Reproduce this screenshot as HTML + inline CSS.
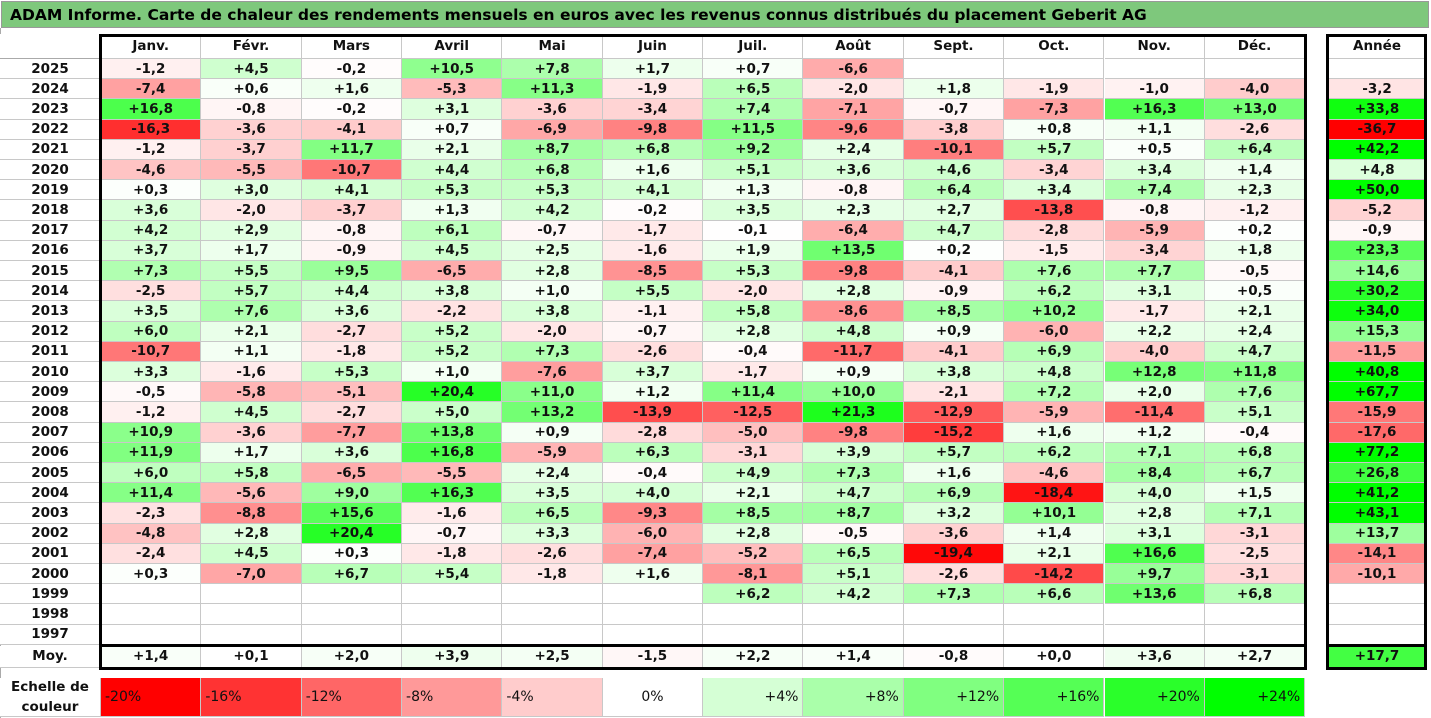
<!DOCTYPE html>
<html><head><meta charset="utf-8">
<style>
body{margin:0;width:1431px;height:718px;background:#fff;font-family:"DejaVu Sans","Liberation Sans",sans-serif;position:relative;overflow:hidden}
.c{position:absolute;box-sizing:border-box;font-weight:bold;font-size:13.5px;color:#111;display:flex;align-items:center;justify-content:center;border-right:1px solid #c8c8c8;border-bottom:1px solid #c8c8c8}
.b{position:absolute;box-sizing:border-box;border:3px solid #000;pointer-events:none}
#title{position:absolute;left:1px;top:1px;width:1428px;height:27px;background:#7ec87c;font-weight:bold;font-size:15.5px;display:flex;align-items:center;padding-left:8px;box-sizing:border-box;border:1px solid #999}
</style></head><body>
<div id="title">ADAM Informe. Carte de chaleur des rendements mensuels en euros avec les revenus connus distribués du placement Geberit AG</div>
<div style="position:absolute;left:0;top:28px;width:1px;height:690px;background:#aaa"></div>
<div id="root"></div>
<script>
const months=["Janv.","Févr.","Mars","Avril","Mai","Juin","Juil.","Août","Sept.","Oct.","Nov.","Déc."];
const years=[2025,2024,2023,2022,2021,2020,2019,2018,2017,2016,2015,2014,2013,2012,2011,2010,2009,2008,2007,2006,2005,2004,2003,2002,2001,2000,1999,1998,1997];
const N=null;
const values=[
[-1.2,4.5,-0.2,10.5,7.8,1.7,0.7,-6.6,N,N,N,N],
[-7.4,0.6,1.6,-5.3,11.3,-1.9,6.5,-2.0,1.8,-1.9,-1.0,-4.0],
[16.8,-0.8,-0.2,3.1,-3.6,-3.4,7.4,-7.1,-0.7,-7.3,16.3,13.0],
[-16.3,-3.6,-4.1,0.7,-6.9,-9.8,11.5,-9.6,-3.8,0.8,1.1,-2.6],
[-1.2,-3.7,11.7,2.1,8.7,6.8,9.2,2.4,-10.1,5.7,0.5,6.4],
[-4.6,-5.5,-10.7,4.4,6.8,1.6,5.1,3.6,4.6,-3.4,3.4,1.4],
[0.3,3.0,4.1,5.3,5.3,4.1,1.3,-0.8,6.4,3.4,7.4,2.3],
[3.6,-2.0,-3.7,1.3,4.2,-0.2,3.5,2.3,2.7,-13.8,-0.8,-1.2],
[4.2,2.9,-0.8,6.1,-0.7,-1.7,-0.1,-6.4,4.7,-2.8,-5.9,0.2],
[3.7,1.7,-0.9,4.5,2.5,-1.6,1.9,13.5,0.2,-1.5,-3.4,1.8],
[7.3,5.5,9.5,-6.5,2.8,-8.5,5.3,-9.8,-4.1,7.6,7.7,-0.5],
[-2.5,5.7,4.4,3.8,1.0,5.5,-2.0,2.8,-0.9,6.2,3.1,0.5],
[3.5,7.6,3.6,-2.2,3.8,-1.1,5.8,-8.6,8.5,10.2,-1.7,2.1],
[6.0,2.1,-2.7,5.2,-2.0,-0.7,2.8,4.8,0.9,-6.0,2.2,2.4],
[-10.7,1.1,-1.8,5.2,7.3,-2.6,-0.4,-11.7,-4.1,6.9,-4.0,4.7],
[3.3,-1.6,5.3,1.0,-7.6,3.7,-1.7,0.9,3.8,4.8,12.8,11.8],
[-0.5,-5.8,-5.1,20.4,11.0,1.2,11.4,10.0,-2.1,7.2,2.0,7.6],
[-1.2,4.5,-2.7,5.0,13.2,-13.9,-12.5,21.3,-12.9,-5.9,-11.4,5.1],
[10.9,-3.6,-7.7,13.8,0.9,-2.8,-5.0,-9.8,-15.2,1.6,1.2,-0.4],
[11.9,1.7,3.6,16.8,-5.9,6.3,-3.1,3.9,5.7,6.2,7.1,6.8],
[6.0,5.8,-6.5,-5.5,2.4,-0.4,4.9,7.3,1.6,-4.6,8.4,6.7],
[11.4,-5.6,9.0,16.3,3.5,4.0,2.1,4.7,6.9,-18.4,4.0,1.5],
[-2.3,-8.8,15.6,-1.6,6.5,-9.3,8.5,8.7,3.2,10.1,2.8,7.1],
[-4.8,2.8,20.4,-0.7,3.3,-6.0,2.8,-0.5,-3.6,1.4,3.1,-3.1],
[-2.4,4.5,0.3,-1.8,-2.6,-7.4,-5.2,6.5,-19.4,2.1,16.6,-2.5],
[0.3,-7.0,6.7,5.4,-1.8,1.6,-8.1,5.1,-2.6,-14.2,9.7,-3.1],
[N,N,N,N,N,N,6.2,4.2,7.3,6.6,13.6,6.8],
[N,N,N,N,N,N,N,N,N,N,N,N],
[N,N,N,N,N,N,N,N,N,N,N,N]];
const yearTotals=[N,-3.2,33.8,-36.7,42.2,4.8,50.0,-5.2,-0.9,23.3,14.6,30.2,34.0,15.3,-11.5,40.8,67.7,-15.9,-17.6,77.2,26.8,41.2,43.1,13.7,-14.1,-10.1,N,N,N];
const averages=[1.4,0.1,2.0,3.9,2.5,-1.5,2.2,1.4,-0.8,0.0,3.6,2.7];
const avgTotal=17.7;
const scaleLabels=["-20%","-16%","-12%","-8%","-4%","0%","+4%","+8%","+12%","+16%","+20%","+24%"];
const scaleValues=[-20,-16,-12,-8,-4,0,4,8,12,16,20,24];

const root=document.getElementById('root');
const X0=101,CW=100.35,YX=1328,YW=99,HT=34,HH=25,RY=59,RH=20.2;
const colX=i=>X0+i*CW, rowY=r=>RY+r*RH;
function color(v,k){if(v==null)return '#fff';k=k||1;
 if(v<0){const t=Math.min(1,-v/(20*k));const g=Math.round(255*(1-t));return `rgb(255,${g},${g})`;}
 const t=Math.min(1,v/(24*k));const g=Math.round(255*(1-t));return `rgb(${g},255,${g})`;}
function fmt(v){if(v==null)return '';return (v>=0?'+':'')+v.toFixed(1).replace('.',',');}
function cell(x,y,w,h,txt,bg,name){const d=document.createElement('div');d.className='c';
 d.style.cssText+=`left:${x}px;top:${y}px;width:${w}px;height:${h}px;background:${bg}`;d.textContent=txt;
 
 
 root.appendChild(d);return d;}
function box(x,y,w,h,name){const d=document.createElement('div');d.className='b';
 d.style.cssText+=`left:${x}px;top:${y}px;width:${w}px;height:${h}px`;
 
 
 root.appendChild(d);}
cell(0,HT,X0,HH,'','#fff','header-corner');
months.forEach((m,i)=>cell(colX(i),HT,CW,HH,m,'#fff','month-header'));
cell(YX,HT,YW,HH,'Année','#fff','year-header');
years.forEach((y,r)=>{
 cell(0,rowY(r),X0,RH,String(y),'#fff','row-label');
 values[r].forEach((v,i)=>cell(colX(i),rowY(r),CW,RH,fmt(v),color(v),'heatmap-cell'));
 cell(YX,rowY(r),YW,RH,fmt(yearTotals[r]),color(yearTotals[r],1.5),'year-total-cell');
});
const MY=rowY(years.length)+1,MH=22;
cell(0,MY,X0,MH,'Moy.','#fff','average-label');
averages.forEach((v,i)=>cell(colX(i),MY,CW,MH,fmt(v),color(v,2.5),'average-cell'));
cell(YX,MY,YW,MH,fmt(avgTotal),color(avgTotal,1),'average-total-cell');
const LY=678,LH=39;
const lab=cell(0,LY,X0,LH,'Echelle de couleur','#fff','scale-label');lab.style.textAlign='center';lab.style.lineHeight='20px';lab.style.fontSize='13.5px';
scaleValues.forEach((v,i)=>{const d=cell(colX(i),LY,CW,LH,scaleLabels[i],color(v),'scale-swatch');
 d.style.fontWeight='normal';d.style.fontSize='14px';d.style.padding='0 4px';
 d.style.justifyContent=v<0?'flex-start':(v>0?'flex-end':'center');});
box(X0-2,HT,colX(12)-X0+4,rowY(years.length)-HT+2,'month-table-border');
box(X0-2,MY-2,colX(12)-X0+4,MH+4,'average-row-border');
box(YX-2,HT,YW+2,rowY(years.length)-HT+2,'year-column-border');
box(YX-2,MY-2,YW+2,MH+4,'year-average-border');
const hl=document.createElement('div');hl.style.cssText=`position:absolute;left:0;top:${RY-1}px;width:${X0}px;height:1px;background:#aaa`;


root.appendChild(hl);
const vl=document.createElement('div');vl.style.cssText=`position:absolute;left:${X0-2}px;top:${HT}px;width:3px;height:${MY+MH-HT+2}px;background:#000`;


root.appendChild(vl);
</script>
</body></html>
